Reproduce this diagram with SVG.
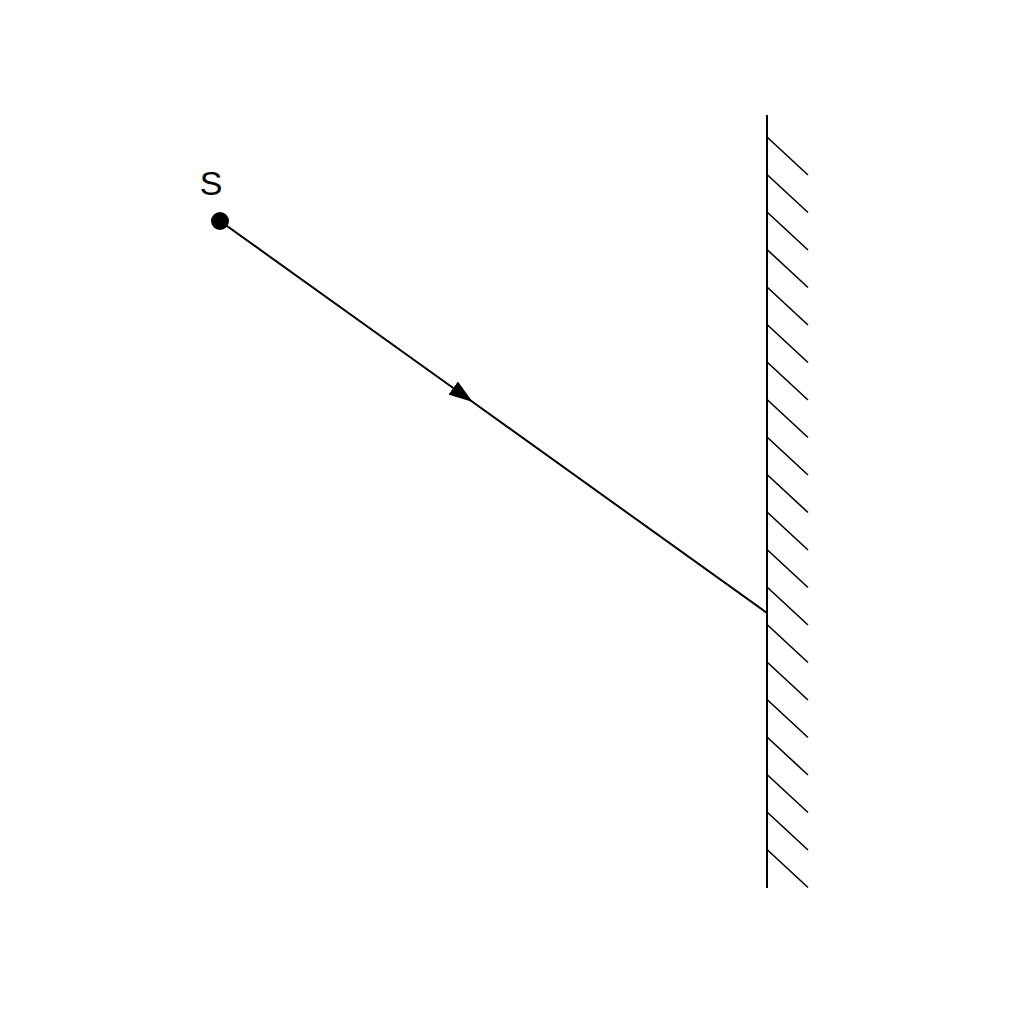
<svg xmlns="http://www.w3.org/2000/svg" width="1024" height="1024" viewBox="0 0 1024 1024">
<defs>
<style>
.ln{stroke:#000;stroke-width:2;fill:none}
.hatch{stroke:#000;stroke-width:1.6}
.lbl{font-family:"Liberation Sans",Arial,sans-serif;font-size:34px;fill:#000}
</style>
<marker id="arr" viewBox="0 0 24 16" refX="12" refY="8" markerWidth="24" markerHeight="16" markerUnits="userSpaceOnUse" orient="auto">
<path d="M0,0 L24,8 L0,16 z" fill="#000"/>
</marker>
</defs>
<rect width="1024" height="1024" fill="#fff"/>
<g id="mirror">
<line class="ln" x1="767" y1="115" x2="767" y2="888"/>
<g class="hatch">
<line x1="767" y1="137" x2="808" y2="175"/>
<line x1="767" y1="174.5" x2="808" y2="212.5"/>
<line x1="767" y1="212" x2="808" y2="250"/>
<line x1="767" y1="249.5" x2="808" y2="287.5"/>
<line x1="767" y1="287" x2="808" y2="325"/>
<line x1="767" y1="324.5" x2="808" y2="362.5"/>
<line x1="767" y1="362" x2="808" y2="400"/>
<line x1="767" y1="399.5" x2="808" y2="437.5"/>
<line x1="767" y1="437" x2="808" y2="475"/>
<line x1="767" y1="474.5" x2="808" y2="512.5"/>
<line x1="767" y1="512" x2="808" y2="550"/>
<line x1="767" y1="549.5" x2="808" y2="587.5"/>
<line x1="767" y1="587" x2="808" y2="625"/>
<line x1="767" y1="624.5" x2="808" y2="662.5"/>
<line x1="767" y1="662" x2="808" y2="700"/>
<line x1="767" y1="699.5" x2="808" y2="737.5"/>
<line x1="767" y1="737" x2="808" y2="775"/>
<line x1="767" y1="774.5" x2="808" y2="812.5"/>
<line x1="767" y1="812" x2="808" y2="850"/>
<line x1="767" y1="849.5" x2="808" y2="887.5"/>
</g>
</g>
<g id="source">
<circle cx="220" cy="221" r="9" fill="#000"/>
<text class="lbl" x="211" y="195" text-anchor="middle">S</text>
</g>
<g id="connectors">
<polyline class="ln" points="220,221 463,395 767,613" marker-mid="url(#arr)"/>
</g>
</svg>
